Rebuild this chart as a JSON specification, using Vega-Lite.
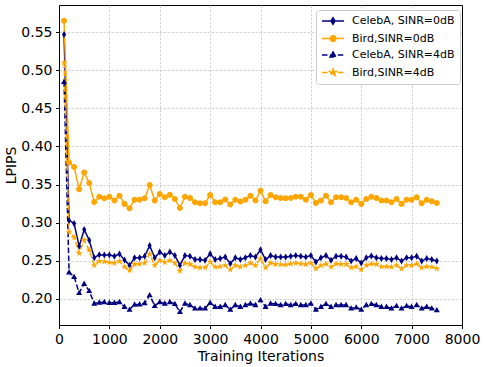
{
"$schema": "https://vega.github.io/schema/vega-lite/v6.json",
"width": 403, "height": 320,
"autosize": {"type": "none"},
"padding": {"left": 59, "top": 5, "right": 24, "bottom": 42},
"background": "white",
"config": {
  "font": "DejaVu Sans",
  "view": {"stroke": "black", "strokeWidth": 1},
  "axis": {"labelFont": "DejaVu Sans", "labelFontSize": 14, "labelColor": "black", "titleFont": "DejaVu Sans", "titleFontSize": 14, "titleFontWeight": "normal", "titleColor": "black", "domainColor": "black", "tickColor": "black", "tickSize": 3.5, "labelPadding": 3.5, "gridColor": "#c8c8c8", "gridDash": [2.5, 1.5], "gridWidth": 0.8, "labelOverlap": false, "labelFlush": false}
},
"datasets": {
"pts": [
{"x":100,"s":"CelebA, SINR=0dB","y":0.547},{"x":200,"s":"CelebA, SINR=0dB","y":0.303},{"x":300,"s":"CelebA, SINR=0dB","y":0.299},{"x":400,"s":"CelebA, SINR=0dB","y":0.269},{"x":500,"s":"CelebA, SINR=0dB","y":0.291},{"x":600,"s":"CelebA, SINR=0dB","y":0.277},{"x":700,"s":"CelebA, SINR=0dB","y":0.254},{"x":800,"s":"CelebA, SINR=0dB","y":0.258},{"x":900,"s":"CelebA, SINR=0dB","y":0.2575},{"x":1000,"s":"CelebA, SINR=0dB","y":0.2575},
{"x":1100,"s":"CelebA, SINR=0dB","y":0.256},{"x":1200,"s":"CelebA, SINR=0dB","y":0.259},{"x":1300,"s":"CelebA, SINR=0dB","y":0.251},{"x":1400,"s":"CelebA, SINR=0dB","y":0.244},{"x":1500,"s":"CelebA, SINR=0dB","y":0.254},{"x":1600,"s":"CelebA, SINR=0dB","y":0.254},{"x":1700,"s":"CelebA, SINR=0dB","y":0.256},{"x":1800,"s":"CelebA, SINR=0dB","y":0.270},{"x":1900,"s":"CelebA, SINR=0dB","y":0.254},{"x":2000,"s":"CelebA, SINR=0dB","y":0.2615},
{"x":2100,"s":"CelebA, SINR=0dB","y":0.257},{"x":2200,"s":"CelebA, SINR=0dB","y":0.2615},{"x":2300,"s":"CelebA, SINR=0dB","y":0.257},{"x":2400,"s":"CelebA, SINR=0dB","y":0.244},{"x":2500,"s":"CelebA, SINR=0dB","y":0.257},{"x":2600,"s":"CelebA, SINR=0dB","y":0.256},{"x":2700,"s":"CelebA, SINR=0dB","y":0.2516},{"x":2800,"s":"CelebA, SINR=0dB","y":0.2516},{"x":2900,"s":"CelebA, SINR=0dB","y":0.2507},{"x":3000,"s":"CelebA, SINR=0dB","y":0.2594},
{"x":3100,"s":"CelebA, SINR=0dB","y":0.2516},{"x":3200,"s":"CelebA, SINR=0dB","y":0.253},{"x":3300,"s":"CelebA, SINR=0dB","y":0.255},{"x":3400,"s":"CelebA, SINR=0dB","y":0.2463},{"x":3500,"s":"CelebA, SINR=0dB","y":0.254},{"x":3600,"s":"CelebA, SINR=0dB","y":0.2516},{"x":3700,"s":"CelebA, SINR=0dB","y":0.254},{"x":3800,"s":"CelebA, SINR=0dB","y":0.257},{"x":3900,"s":"CelebA, SINR=0dB","y":0.255},{"x":4000,"s":"CelebA, SINR=0dB","y":0.2646},
{"x":4100,"s":"CelebA, SINR=0dB","y":0.2516},{"x":4200,"s":"CelebA, SINR=0dB","y":0.257},{"x":4300,"s":"CelebA, SINR=0dB","y":0.255},{"x":4400,"s":"CelebA, SINR=0dB","y":0.255},{"x":4500,"s":"CelebA, SINR=0dB","y":0.255},{"x":4600,"s":"CelebA, SINR=0dB","y":0.256},{"x":4700,"s":"CelebA, SINR=0dB","y":0.257},{"x":4800,"s":"CelebA, SINR=0dB","y":0.256},{"x":4900,"s":"CelebA, SINR=0dB","y":0.255},{"x":5000,"s":"CelebA, SINR=0dB","y":0.257},
{"x":5100,"s":"CelebA, SINR=0dB","y":0.2485},{"x":5200,"s":"CelebA, SINR=0dB","y":0.254},{"x":5300,"s":"CelebA, SINR=0dB","y":0.257},{"x":5400,"s":"CelebA, SINR=0dB","y":0.2507},{"x":5500,"s":"CelebA, SINR=0dB","y":0.256},{"x":5600,"s":"CelebA, SINR=0dB","y":0.256},{"x":5700,"s":"CelebA, SINR=0dB","y":0.255},{"x":5800,"s":"CelebA, SINR=0dB","y":0.2497},{"x":5900,"s":"CelebA, SINR=0dB","y":0.253},{"x":6000,"s":"CelebA, SINR=0dB","y":0.247},
{"x":6100,"s":"CelebA, SINR=0dB","y":0.254},{"x":6200,"s":"CelebA, SINR=0dB","y":0.2563},{"x":6300,"s":"CelebA, SINR=0dB","y":0.254},{"x":6400,"s":"CelebA, SINR=0dB","y":0.253},{"x":6500,"s":"CelebA, SINR=0dB","y":0.253},{"x":6600,"s":"CelebA, SINR=0dB","y":0.2516},{"x":6700,"s":"CelebA, SINR=0dB","y":0.254},{"x":6800,"s":"CelebA, SINR=0dB","y":0.2497},{"x":6900,"s":"CelebA, SINR=0dB","y":0.254},{"x":7000,"s":"CelebA, SINR=0dB","y":0.254},
{"x":7100,"s":"CelebA, SINR=0dB","y":0.256},{"x":7200,"s":"CelebA, SINR=0dB","y":0.2497},{"x":7300,"s":"CelebA, SINR=0dB","y":0.253},{"x":7400,"s":"CelebA, SINR=0dB","y":0.2516},{"x":7500,"s":"CelebA, SINR=0dB","y":0.2497},

{"x":100,"s":"Bird,SINR=0dB","y":0.565},{"x":200,"s":"Bird,SINR=0dB","y":0.379},{"x":300,"s":"Bird,SINR=0dB","y":0.373},{"x":400,"s":"Bird,SINR=0dB","y":0.344},{"x":500,"s":"Bird,SINR=0dB","y":0.366},{"x":600,"s":"Bird,SINR=0dB","y":0.352},{"x":700,"s":"Bird,SINR=0dB","y":0.327},{"x":800,"s":"Bird,SINR=0dB","y":0.334},{"x":900,"s":"Bird,SINR=0dB","y":0.332},{"x":1000,"s":"Bird,SINR=0dB","y":0.334},
{"x":1100,"s":"Bird,SINR=0dB","y":0.329},{"x":1200,"s":"Bird,SINR=0dB","y":0.3355},{"x":1300,"s":"Bird,SINR=0dB","y":0.3247},{"x":1400,"s":"Bird,SINR=0dB","y":0.319},{"x":1500,"s":"Bird,SINR=0dB","y":0.330},{"x":1600,"s":"Bird,SINR=0dB","y":0.330},{"x":1700,"s":"Bird,SINR=0dB","y":0.332},{"x":1800,"s":"Bird,SINR=0dB","y":0.3495},{"x":1900,"s":"Bird,SINR=0dB","y":0.329},{"x":2000,"s":"Bird,SINR=0dB","y":0.3377},
{"x":2100,"s":"Bird,SINR=0dB","y":0.3333},{"x":2200,"s":"Bird,SINR=0dB","y":0.3368},{"x":2300,"s":"Bird,SINR=0dB","y":0.331},{"x":2400,"s":"Bird,SINR=0dB","y":0.3194},{"x":2500,"s":"Bird,SINR=0dB","y":0.334},{"x":2600,"s":"Bird,SINR=0dB","y":0.3325},{"x":2700,"s":"Bird,SINR=0dB","y":0.3268},{"x":2800,"s":"Bird,SINR=0dB","y":0.3255},{"x":2900,"s":"Bird,SINR=0dB","y":0.3255},{"x":3000,"s":"Bird,SINR=0dB","y":0.3364},
{"x":3100,"s":"Bird,SINR=0dB","y":0.3268},{"x":3200,"s":"Bird,SINR=0dB","y":0.3268},{"x":3300,"s":"Bird,SINR=0dB","y":0.3303},{"x":3400,"s":"Bird,SINR=0dB","y":0.3238},{"x":3500,"s":"Bird,SINR=0dB","y":0.330},{"x":3600,"s":"Bird,SINR=0dB","y":0.3277},{"x":3700,"s":"Bird,SINR=0dB","y":0.330},{"x":3800,"s":"Bird,SINR=0dB","y":0.3355},{"x":3900,"s":"Bird,SINR=0dB","y":0.329},{"x":4000,"s":"Bird,SINR=0dB","y":0.342},
{"x":4100,"s":"Bird,SINR=0dB","y":0.328},{"x":4200,"s":"Bird,SINR=0dB","y":0.3364},{"x":4300,"s":"Bird,SINR=0dB","y":0.3333},{"x":4400,"s":"Bird,SINR=0dB","y":0.3325},{"x":4500,"s":"Bird,SINR=0dB","y":0.332},{"x":4600,"s":"Bird,SINR=0dB","y":0.3325},{"x":4700,"s":"Bird,SINR=0dB","y":0.334},{"x":4800,"s":"Bird,SINR=0dB","y":0.334},{"x":4900,"s":"Bird,SINR=0dB","y":0.330},{"x":5000,"s":"Bird,SINR=0dB","y":0.3364},
{"x":5100,"s":"Bird,SINR=0dB","y":0.326},{"x":5200,"s":"Bird,SINR=0dB","y":0.329},{"x":5300,"s":"Bird,SINR=0dB","y":0.3355},{"x":5400,"s":"Bird,SINR=0dB","y":0.3268},{"x":5500,"s":"Bird,SINR=0dB","y":0.3333},{"x":5600,"s":"Bird,SINR=0dB","y":0.3333},{"x":5700,"s":"Bird,SINR=0dB","y":0.3325},{"x":5800,"s":"Bird,SINR=0dB","y":0.3268},{"x":5900,"s":"Bird,SINR=0dB","y":0.330},{"x":6000,"s":"Bird,SINR=0dB","y":0.3247},
{"x":6100,"s":"Bird,SINR=0dB","y":0.331},{"x":6200,"s":"Bird,SINR=0dB","y":0.334},{"x":6300,"s":"Bird,SINR=0dB","y":0.3325},{"x":6400,"s":"Bird,SINR=0dB","y":0.329},{"x":6500,"s":"Bird,SINR=0dB","y":0.329},{"x":6600,"s":"Bird,SINR=0dB","y":0.3268},{"x":6700,"s":"Bird,SINR=0dB","y":0.331},{"x":6800,"s":"Bird,SINR=0dB","y":0.3247},{"x":6900,"s":"Bird,SINR=0dB","y":0.330},{"x":7000,"s":"Bird,SINR=0dB","y":0.330},
{"x":7100,"s":"Bird,SINR=0dB","y":0.3333},{"x":7200,"s":"Bird,SINR=0dB","y":0.3255},{"x":7300,"s":"Bird,SINR=0dB","y":0.330},{"x":7400,"s":"Bird,SINR=0dB","y":0.328},{"x":7500,"s":"Bird,SINR=0dB","y":0.326},

{"x":100,"s":"CelebA, SINR=4dB","y":0.485},{"x":200,"s":"CelebA, SINR=4dB","y":0.235},{"x":300,"s":"CelebA, SINR=4dB","y":0.229},{"x":400,"s":"CelebA, SINR=4dB","y":0.208},{"x":500,"s":"CelebA, SINR=4dB","y":0.220},{"x":600,"s":"CelebA, SINR=4dB","y":0.2106},{"x":700,"s":"CelebA, SINR=4dB","y":0.194},{"x":800,"s":"CelebA, SINR=4dB","y":0.1954},{"x":900,"s":"CelebA, SINR=4dB","y":0.196},{"x":1000,"s":"CelebA, SINR=4dB","y":0.195},
{"x":1100,"s":"CelebA, SINR=4dB","y":0.195},{"x":1200,"s":"CelebA, SINR=4dB","y":0.196},{"x":1300,"s":"CelebA, SINR=4dB","y":0.1897},{"x":1400,"s":"CelebA, SINR=4dB","y":0.186},{"x":1500,"s":"CelebA, SINR=4dB","y":0.1928},{"x":1600,"s":"CelebA, SINR=4dB","y":0.193},{"x":1700,"s":"CelebA, SINR=4dB","y":0.1945},{"x":1800,"s":"CelebA, SINR=4dB","y":0.205},{"x":1900,"s":"CelebA, SINR=4dB","y":0.191},{"x":2000,"s":"CelebA, SINR=4dB","y":0.196},
{"x":2100,"s":"CelebA, SINR=4dB","y":0.194},{"x":2200,"s":"CelebA, SINR=4dB","y":0.196},{"x":2300,"s":"CelebA, SINR=4dB","y":0.1935},{"x":2400,"s":"CelebA, SINR=4dB","y":0.183},{"x":2500,"s":"CelebA, SINR=4dB","y":0.194},{"x":2600,"s":"CelebA, SINR=4dB","y":0.192},{"x":2700,"s":"CelebA, SINR=4dB","y":0.1876},{"x":2800,"s":"CelebA, SINR=4dB","y":0.1876},{"x":2900,"s":"CelebA, SINR=4dB","y":0.1876},{"x":3000,"s":"CelebA, SINR=4dB","y":0.195},
{"x":3100,"s":"CelebA, SINR=4dB","y":0.1897},{"x":3200,"s":"CelebA, SINR=4dB","y":0.1897},{"x":3300,"s":"CelebA, SINR=4dB","y":0.192},{"x":3400,"s":"CelebA, SINR=4dB","y":0.186},{"x":3500,"s":"CelebA, SINR=4dB","y":0.192},{"x":3600,"s":"CelebA, SINR=4dB","y":0.1897},{"x":3700,"s":"CelebA, SINR=4dB","y":0.192},{"x":3800,"s":"CelebA, SINR=4dB","y":0.194},{"x":3900,"s":"CelebA, SINR=4dB","y":0.192},{"x":4000,"s":"CelebA, SINR=4dB","y":0.1984},
{"x":4100,"s":"CelebA, SINR=4dB","y":0.1897},{"x":4200,"s":"CelebA, SINR=4dB","y":0.194},{"x":4300,"s":"CelebA, SINR=4dB","y":0.1935},{"x":4400,"s":"CelebA, SINR=4dB","y":0.192},{"x":4500,"s":"CelebA, SINR=4dB","y":0.1935},{"x":4600,"s":"CelebA, SINR=4dB","y":0.192},{"x":4700,"s":"CelebA, SINR=4dB","y":0.1935},{"x":4800,"s":"CelebA, SINR=4dB","y":0.192},{"x":4900,"s":"CelebA, SINR=4dB","y":0.192},{"x":5000,"s":"CelebA, SINR=4dB","y":0.194},
{"x":5100,"s":"CelebA, SINR=4dB","y":0.186},{"x":5200,"s":"CelebA, SINR=4dB","y":0.1897},{"x":5300,"s":"CelebA, SINR=4dB","y":0.1935},{"x":5400,"s":"CelebA, SINR=4dB","y":0.1897},{"x":5500,"s":"CelebA, SINR=4dB","y":0.192},{"x":5600,"s":"CelebA, SINR=4dB","y":0.192},{"x":5700,"s":"CelebA, SINR=4dB","y":0.192},{"x":5800,"s":"CelebA, SINR=4dB","y":0.1876},{"x":5900,"s":"CelebA, SINR=4dB","y":0.189},{"x":6000,"s":"CelebA, SINR=4dB","y":0.186},
{"x":6100,"s":"CelebA, SINR=4dB","y":0.192},{"x":6200,"s":"CelebA, SINR=4dB","y":0.1935},{"x":6300,"s":"CelebA, SINR=4dB","y":0.192},{"x":6400,"s":"CelebA, SINR=4dB","y":0.1897},{"x":6500,"s":"CelebA, SINR=4dB","y":0.1897},{"x":6600,"s":"CelebA, SINR=4dB","y":0.1876},{"x":6700,"s":"CelebA, SINR=4dB","y":0.191},{"x":6800,"s":"CelebA, SINR=4dB","y":0.1876},{"x":6900,"s":"CelebA, SINR=4dB","y":0.191},{"x":7000,"s":"CelebA, SINR=4dB","y":0.1897},
{"x":7100,"s":"CelebA, SINR=4dB","y":0.192},{"x":7200,"s":"CelebA, SINR=4dB","y":0.1876},{"x":7300,"s":"CelebA, SINR=4dB","y":0.1897},{"x":7400,"s":"CelebA, SINR=4dB","y":0.1876},{"x":7500,"s":"CelebA, SINR=4dB","y":0.1854},

{"x":100,"s":"Bird,SINR=4dB","y":0.510},{"x":200,"s":"Bird,SINR=4dB","y":0.288},{"x":300,"s":"Bird,SINR=4dB","y":0.281},{"x":400,"s":"Bird,SINR=4dB","y":0.260},{"x":500,"s":"Bird,SINR=4dB","y":0.277},{"x":600,"s":"Bird,SINR=4dB","y":0.264},{"x":700,"s":"Bird,SINR=4dB","y":0.244},{"x":800,"s":"Bird,SINR=4dB","y":0.2497},{"x":900,"s":"Bird,SINR=4dB","y":0.249},{"x":1000,"s":"Bird,SINR=4dB","y":0.248},
{"x":1100,"s":"Bird,SINR=4dB","y":0.247},{"x":1200,"s":"Bird,SINR=4dB","y":0.2497},{"x":1300,"s":"Bird,SINR=4dB","y":0.242},{"x":1400,"s":"Bird,SINR=4dB","y":0.2376},{"x":1500,"s":"Bird,SINR=4dB","y":0.2455},{"x":1600,"s":"Bird,SINR=4dB","y":0.246},{"x":1700,"s":"Bird,SINR=4dB","y":0.247},{"x":1800,"s":"Bird,SINR=4dB","y":0.259},{"x":1900,"s":"Bird,SINR=4dB","y":0.244},{"x":2000,"s":"Bird,SINR=4dB","y":0.2507},
{"x":2100,"s":"Bird,SINR=4dB","y":0.248},{"x":2200,"s":"Bird,SINR=4dB","y":0.2507},{"x":2300,"s":"Bird,SINR=4dB","y":0.247},{"x":2400,"s":"Bird,SINR=4dB","y":0.2367},{"x":2500,"s":"Bird,SINR=4dB","y":0.247},{"x":2600,"s":"Bird,SINR=4dB","y":0.2455},{"x":2700,"s":"Bird,SINR=4dB","y":0.242},{"x":2800,"s":"Bird,SINR=4dB","y":0.241},{"x":2900,"s":"Bird,SINR=4dB","y":0.241},{"x":3000,"s":"Bird,SINR=4dB","y":0.2485},
{"x":3100,"s":"Bird,SINR=4dB","y":0.242},{"x":3200,"s":"Bird,SINR=4dB","y":0.2425},{"x":3300,"s":"Bird,SINR=4dB","y":0.244},{"x":3400,"s":"Bird,SINR=4dB","y":0.2385},{"x":3500,"s":"Bird,SINR=4dB","y":0.244},{"x":3600,"s":"Bird,SINR=4dB","y":0.242},{"x":3700,"s":"Bird,SINR=4dB","y":0.244},{"x":3800,"s":"Bird,SINR=4dB","y":0.247},{"x":3900,"s":"Bird,SINR=4dB","y":0.244},{"x":4000,"s":"Bird,SINR=4dB","y":0.2528},
{"x":4100,"s":"Bird,SINR=4dB","y":0.241},{"x":4200,"s":"Bird,SINR=4dB","y":0.247},{"x":4300,"s":"Bird,SINR=4dB","y":0.2455},{"x":4400,"s":"Bird,SINR=4dB","y":0.245},{"x":4500,"s":"Bird,SINR=4dB","y":0.245},{"x":4600,"s":"Bird,SINR=4dB","y":0.246},{"x":4700,"s":"Bird,SINR=4dB","y":0.247},{"x":4800,"s":"Bird,SINR=4dB","y":0.246},{"x":4900,"s":"Bird,SINR=4dB","y":0.2455},{"x":5000,"s":"Bird,SINR=4dB","y":0.247},
{"x":5100,"s":"Bird,SINR=4dB","y":0.2398},{"x":5200,"s":"Bird,SINR=4dB","y":0.244},{"x":5300,"s":"Bird,SINR=4dB","y":0.246},{"x":5400,"s":"Bird,SINR=4dB","y":0.242},{"x":5500,"s":"Bird,SINR=4dB","y":0.246},{"x":5600,"s":"Bird,SINR=4dB","y":0.2455},{"x":5700,"s":"Bird,SINR=4dB","y":0.2455},{"x":5800,"s":"Bird,SINR=4dB","y":0.241},{"x":5900,"s":"Bird,SINR=4dB","y":0.2425},{"x":6000,"s":"Bird,SINR=4dB","y":0.2385},
{"x":6100,"s":"Bird,SINR=4dB","y":0.244},{"x":6200,"s":"Bird,SINR=4dB","y":0.246},{"x":6300,"s":"Bird,SINR=4dB","y":0.2455},{"x":6400,"s":"Bird,SINR=4dB","y":0.2425},{"x":6500,"s":"Bird,SINR=4dB","y":0.2425},{"x":6600,"s":"Bird,SINR=4dB","y":0.242},{"x":6700,"s":"Bird,SINR=4dB","y":0.244},{"x":6800,"s":"Bird,SINR=4dB","y":0.2398},{"x":6900,"s":"Bird,SINR=4dB","y":0.244},{"x":7000,"s":"Bird,SINR=4dB","y":0.244},
{"x":7100,"s":"Bird,SINR=4dB","y":0.246},{"x":7200,"s":"Bird,SINR=4dB","y":0.241},{"x":7300,"s":"Bird,SINR=4dB","y":0.2425},{"x":7400,"s":"Bird,SINR=4dB","y":0.242},{"x":7500,"s":"Bird,SINR=4dB","y":0.2398}
]
},
"data": {"name": "pts"},
"encoding": {
  "x": {"field": "x", "type": "quantitative", "scale": {"domain": [0, 8000], "nice": false}, "axis": {"values": [0,1000,2000,3000,4000,5000,6000,7000,8000], "format": "d", "title": "Training Iterations", "titlePadding": 3, "gridOpacity": {"condition": {"test": "datum.value >= 8000", "value": 0}, "value": 1}}},
  "y": {"field": "y", "type": "quantitative", "scale": {"domain": [0.1658, 0.5856], "nice": false, "zero": false}, "axis": {"values": [0.2,0.25,0.3,0.35,0.4,0.45,0.5,0.55], "format": ".2f", "title": "LPIPS", "titlePadding": 2}}
},
"layer": [
  {"mark": {"type": "line", "strokeWidth": 1.5},
   "encoding": {
     "color": {"field": "s", "type": "nominal",
       "scale": {"domain": ["CelebA, SINR=0dB","Bird,SINR=0dB","CelebA, SINR=4dB","Bird,SINR=4dB"], "range": ["#000080","#FFA500","#000080","#FFA500"]},
       "legend": {"orient": "none", "legendX": 257, "legendY": 5, "title": null, "labelFont": "DejaVu Sans", "labelFontSize": 11, "labelColor": "black", "padding": 5, "rowPadding": 4.5, "labelOffset": 19, "strokeColor": "#cccccc", "fillColor": "white", "cornerRadius": 3, "symbolSize": 100, "symbolStrokeWidth": 1.5,
         "encode": {"symbols": {"update": {
           "shape": {"signal": "datum.value === 'CelebA, SINR=0dB' ? 'M-1,0L3.4,0M1.2,-0.66L1.6,0L1.2,0.66L0.8,0Z' : datum.value === 'Bird,SINR=0dB' ? 'M-1,0L3.4,0M1.76,0A0.56,0.56,0,1,1,0.64,0A0.56,0.56,0,1,1,1.76,0Z' : datum.value === 'CelebA, SINR=4dB' ? 'M-1,0L3.4,0M1.2,-0.6L1.8,0.42L0.6,0.42Z' : 'M-1,0L3.4,0M1.2,-0.7L1.36,-0.22L1.87,-0.22L1.46,0.08L1.61,0.57L1.2,0.27L0.79,0.57L0.95,0.08L0.53,-0.22L1.04,-0.22Z'"},
           "fill": {"signal": "scale('color', datum.value)"},
           "fillOpacity": {"value": 1}
         }}}}},
     "strokeDash": {"field": "s", "type": "nominal",
       "scale": {"domain": ["CelebA, SINR=0dB","Bird,SINR=0dB","CelebA, SINR=4dB","Bird,SINR=4dB"], "range": [[1,0],[1,0],[5.5,2.4],[5.5,2.4]]}}
   }},
  {"mark": {"type": "point", "filled": true, "opacity": 1, "size": 40},
   "encoding": {
     "color": {"field": "s", "type": "nominal", "legend": null},
     "shape": {"field": "s", "type": "nominal", "legend": null,
       "scale": {"domain": ["CelebA, SINR=0dB","Bird,SINR=0dB","CelebA, SINR=4dB","Bird,SINR=4dB","_"],
         "range": ["M0,-1.1L0.65,0L0,1.1L-0.65,0Z", "M0.95,0A0.95,0.95,0,1,1,-0.95,0A0.95,0.95,0,1,1,0.95,0Z", "M0,-1L0.95,0.7L-0.95,0.7Z", "M0,-1.15L0.26,-0.36L1.09,-0.36L0.42,0.14L0.68,0.93L0,0.44L-0.68,0.93L-0.42,0.14L-1.09,-0.36L-0.26,-0.36Z", "circle"]}}
   }}
]
}
